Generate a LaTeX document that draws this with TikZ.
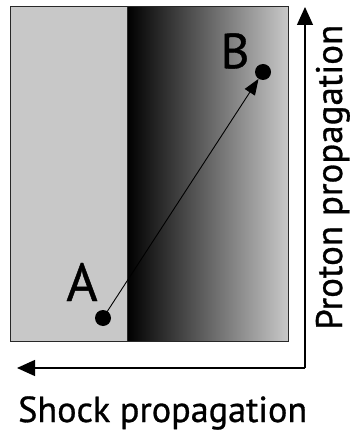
\documentclass[tikz,border=0pt]{standalone}
\usepackage{fontspec}
\setmainfont{PT Sans}
\newfontfamily\heavyfont{PT Sans}[FakeBold=0.8]
\usetikzlibrary{arrows.meta}
\definecolor{bggray}{RGB}{200,200,200}
\definecolor{edgegray}{RGB}{40,40,40}
\tikzset{
  dot/.style={circle,fill=black,inner sep=0pt,minimum size=16pt},
  lbl/.style={inner sep=0pt,font=\heavyfont},
  axislbl/.style={inner sep=0pt,font=\heavyfont},
  bigarrow/.style={line width=1.3pt,-{Triangle[length=18pt,width=16pt]}},
  path/.style={line width=0.9pt,-{Triangle[length=16pt,width=12pt]}}
}
\begin{document}
\begin{tikzpicture}[x=1pt,y=-1pt]
\useasboundingbox (0,0) rectangle (354,435);
% box
\fill[bggray] (10,7) rectangle (288,341);
\shade[left color=black,right color=bggray] (127,7) rectangle (288,341);
\draw[edgegray,line width=0.8pt] (127,7) -- (127,341);
\draw[edgegray,line width=1pt] (10,7) rectangle (288,341);
% points
\node[dot] (a) at (103,318) {};
\node[dot] (b) at (263,72) {};
\node[lbl] (la) at (82,282) {\resizebox{!}{38pt}{A}};
\node[lbl] (lb) at (235,51) {\resizebox{!}{35pt}{B}};
\draw[path] (a.center) -- (b);
% axes
\coordinate (corner) at (305,368);
\coordinate (top) at (305,7);
\coordinate (left) at (17,368);
\draw[bigarrow] (corner) -- (top);
\draw[bigarrow] (corner) -- (left);
\node[axislbl,rotate=90,anchor=base west] (pp) at (342,330) {\resizebox{305pt}{!}{Proton propagation}};
\node[axislbl,anchor=base west] (sp) at (18,422) {\resizebox{289pt}{!}{Shock propagation}};
\end{tikzpicture}
\end{document}
